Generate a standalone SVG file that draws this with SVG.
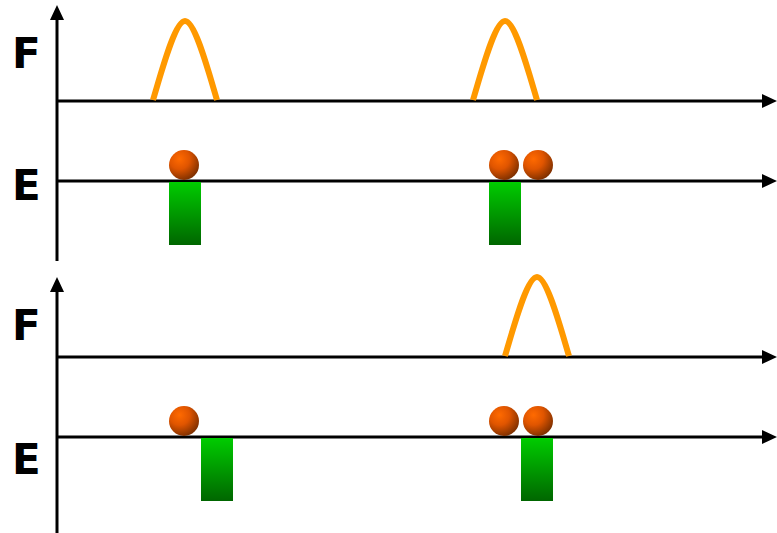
<svg xmlns="http://www.w3.org/2000/svg" width="777" height="533" viewBox="0 0 777 533">
<style>
.axis{stroke:#000;stroke-width:3;fill:none}
.peak{stroke:#FF9900;stroke-width:6;fill:none;stroke-linecap:butt;stroke-linejoin:round}
.lbl{font-family:"DejaVu Sans",sans-serif;font-weight:bold;font-size:42px;fill:#000}
.ball{fill:url(#gBall)}
.bar{fill:url(#gBar)}
</style>
<defs>
<marker id="ah" markerWidth="15" markerHeight="14" refX="3" refY="7" orient="auto" markerUnits="userSpaceOnUse">
<path d="M0,0 L15,7 L0,14 Z" fill="#000"/>
</marker>
<radialGradient id="gBall" cx="0.35" cy="0.3" r="0.75">
<stop offset="0" stop-color="#FF6A00"/>
<stop offset="0.45" stop-color="#E05500"/>
<stop offset="1" stop-color="#7A2E00"/>
</radialGradient>
<linearGradient id="gBar" x1="0" y1="0" x2="0" y2="1">
<stop offset="0" stop-color="#00CC00"/>
<stop offset="1" stop-color="#006600"/>
</linearGradient>
</defs>
<g id="labels">
<text class="lbl" x="12" y="68">F</text>
<text class="lbl" x="12" y="200">E</text>
<text class="lbl" x="12" y="340">F</text>
<text class="lbl" x="12" y="474">E</text>
</g>
<g id="connectors">
<line class="axis" x1="57" y1="261" x2="57" y2="17" marker-end="url(#ah)"/>
<line class="axis" x1="57" y1="101" x2="765" y2="101" marker-end="url(#ah)"/>
<line class="axis" x1="57" y1="181" x2="765" y2="181" marker-end="url(#ah)"/>
<line class="axis" x1="57" y1="533" x2="57" y2="289" marker-end="url(#ah)"/>
<line class="axis" x1="57" y1="357" x2="765" y2="357" marker-end="url(#ah)"/>
<line class="axis" x1="57" y1="437" x2="765" y2="437" marker-end="url(#ah)"/>
</g>
<g id="peak1"><path class="peak" d="M153,100 C162,70 175,21 185,21 C195,21 208,70 217,100"/></g>
<g id="peak2"><path class="peak" d="M473,100 C482,70 495,21 505,21 C515,21 528,70 537,100"/></g>
<g id="peak3"><path class="peak" d="M505,356 C514,326 527,277 537,277 C547,277 560,326 569,356"/></g>
<g id="bar1"><rect class="bar" x="169" y="182" width="32" height="63"/></g>
<g id="bar2"><rect class="bar" x="489" y="182" width="32" height="63"/></g>
<g id="bar3"><rect class="bar" x="201" y="438" width="32" height="63"/></g>
<g id="bar4"><rect class="bar" x="521" y="438" width="32" height="63"/></g>
<g id="ball1"><circle class="ball" cx="184" cy="165" r="15"/></g>
<g id="ball2"><circle class="ball" cx="504" cy="165" r="15"/></g>
<g id="ball3"><circle class="ball" cx="538" cy="165" r="15"/></g>
<g id="ball4"><circle class="ball" cx="184" cy="421" r="15"/></g>
<g id="ball5"><circle class="ball" cx="504" cy="421" r="15"/></g>
<g id="ball6"><circle class="ball" cx="538" cy="421" r="15"/></g>
</svg>
